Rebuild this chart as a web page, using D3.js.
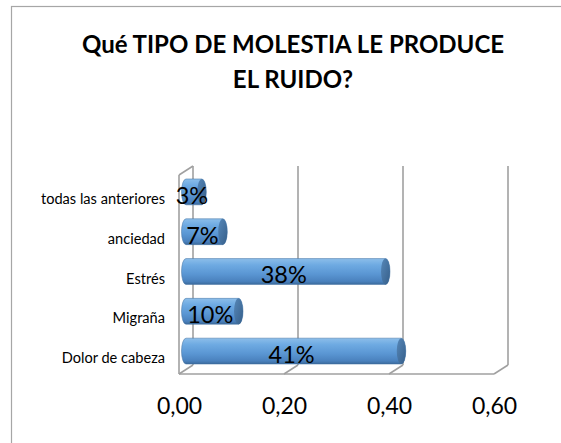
<!DOCTYPE html>
<html>
<head>
<meta charset="utf-8">
<script src="https://cdn.jsdelivr.net/npm/d3@7"></script>
<style>
  html, body { margin: 0; padding: 0; background: #fff; }
  svg { display: block; }
</style>
</head>
<body>
<svg id="chart" width="561" height="443"></svg>
<script>
// Categories listed top to bottom as they appear on the vertical axis
const categories = ["todas las anteriores", "anciedad", "Estrés", "Migraña", "Dolor de cabeza"];
const values = [0.03, 0.07, 0.38, 0.10, 0.41];
const valueLabels = ["3%", "7%", "38%", "10%", "41%"];
const tickValues = [0, 0.2, 0.4, 0.6];
const titleLines = ["Qué TIPO DE MOLESTIA LE PRODUCE", "EL RUIDO?"];

const W = 561, H = 443;
const svg = d3.select("#chart");
const FONT = "Lato, 'Open Sans', sans-serif";

// Front plane of the 3D plot box, plus the depth offset of the back wall
const plot = { left: 179, right: 494, top: 175, bottom: 374 };
const depth = { dx: 14, dy: -9 };
const barShift = { dx: 7, dy: -3 };

const x = d3.scaleLinear().domain([0, 0.6]).range([plot.left, plot.right]);
const y = d3.scaleBand().domain(categories).range([plot.top, plot.bottom])
  .paddingInner(0.35).paddingOuter(0.175);

const esLocale = d3.formatLocale({ decimal: ",", thousands: ".", grouping: [3], currency: ["", " €"] });
const fmt = esLocale.format(".2f");

// Outer chart frame
svg.append("rect")
  .attr("x", 11.5).attr("y", 6.5)
  .attr("width", W + 20).attr("height", H + 20)
  .attr("fill", "#fff").attr("stroke", "#a6a6a6").attr("stroke-width", 1.2);

// Title
const title = svg.append("text")
  .attr("text-anchor", "middle")
  .attr("font-family", FONT).attr("font-weight", "bold")
  .attr("font-size", 24).attr("fill", "#000");
titleLines.forEach((t, i) => {
  title.append("tspan").attr("x", 293).attr("y", 53 + i * 35).text(t);
});

// Gradients for the cylinder bars
const defs = svg.append("defs");
const gBody = defs.append("linearGradient").attr("id", "cylBody")
  .attr("x1", 0).attr("y1", 0).attr("x2", 0).attr("y2", 1);
[[0, "#8cbeea"], [0.25, "#6eaae2"], [0.6, "#5a96d3"], [0.88, "#4a81bd"], [1, "#3b6a9c"]]
  .forEach(([o, c]) => gBody.append("stop").attr("offset", o).attr("stop-color", c));
const gCap = defs.append("linearGradient").attr("id", "cylCap")
  .attr("x1", 0).attr("y1", 0).attr("x2", 1).attr("y2", 1);
[[0, "#5687b8"], [1, "#365f8a"]]
  .forEach(([o, c]) => gCap.append("stop").attr("offset", o).attr("stop-color", c));

// 3D box: back wall gridlines, left wall and floor edges
const frame = svg.append("g")
  .attr("stroke", "#a0a0a0").attr("stroke-width", 1.6).attr("fill", "none");

tickValues.forEach(t => {
  // vertical line on the back wall
  frame.append("line")
    .attr("x1", x(t) + depth.dx).attr("x2", x(t) + depth.dx)
    .attr("y1", plot.top + depth.dy).attr("y2", plot.bottom + depth.dy);
  // floor diagonal from front edge to back wall
  frame.append("line")
    .attr("x1", x(t)).attr("y1", plot.bottom)
    .attr("x2", x(t) + depth.dx).attr("y2", plot.bottom + depth.dy);
});
// left wall front edge and its top
frame.append("line")
  .attr("x1", x(0)).attr("x2", x(0))
  .attr("y1", plot.top).attr("y2", plot.bottom);
frame.append("line")
  .attr("x1", x(0)).attr("y1", plot.top)
  .attr("x2", x(0) + depth.dx).attr("y2", plot.top + depth.dy);
// floor front edge
frame.append("line")
  .attr("x1", x(0)).attr("x2", x(0.6))
  .attr("y1", plot.bottom).attr("y2", plot.bottom);

// Cylinder bars
const rx = 4.5;
const bars = svg.append("g");
categories.forEach((c, i) => {
  const h = y.bandwidth();
  const top = y(c) + barShift.dy;
  const bot = top + h;
  const x0 = x(0) + barShift.dx;
  const x1 = x(values[i]) + barShift.dx;
  const ry = h / 2;
  bars.append("path")
    .attr("d", `M${x0},${top} L${x1},${top} A${rx},${ry} 0 0 1 ${x1},${bot} L${x0},${bot} A${rx},${ry} 0 0 1 ${x0},${top} Z`)
    .attr("fill", "url(#cylBody)")
    .attr("stroke", "#3f6f9f").attr("stroke-width", 0.5);
  bars.append("ellipse")
    .attr("cx", x1).attr("cy", top + ry)
    .attr("rx", rx).attr("ry", ry)
    .attr("fill", "url(#cylCap)");
  // value label
  svg.append("text")
    .attr("x", (x0 + x1) / 2 - 2)
    .attr("y", bot - 1)
    .attr("text-anchor", "middle")
    .attr("font-family", FONT).attr("font-size", 23.5).attr("fill", "#000")
    .text(valueLabels[i]);
});

// Category labels
svg.append("g").selectAll("text").data(categories).join("text")
  .attr("x", 165)
  .attr("y", d => y(d) + y.bandwidth() / 2 + 4)
  .attr("dy", "0.35em")
  .attr("text-anchor", "end")
  .attr("font-family", FONT).attr("font-size", 14.6).attr("fill", "#000")
  .text(d => d);

// Value axis labels
const axis = d3.axisBottom(x).tickValues(tickValues).tickFormat(fmt)
  .tickSize(0).tickPadding(24);
const ag = svg.append("g").attr("transform", `translate(0,${plot.bottom})`).call(axis);
ag.select(".domain").remove();
ag.selectAll("text")
  .attr("font-family", FONT).attr("font-size", 23).attr("fill", "#000");
</script>
</body>
</html>
